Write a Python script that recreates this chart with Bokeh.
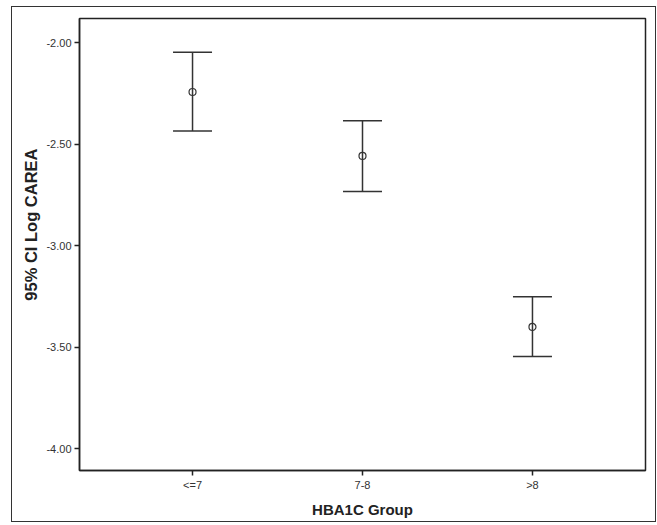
from bokeh.plotting import figure
from bokeh.models import ColumnDataSource, Whisker, TeeHead, Range1d, FixedTicker, Title
from bokeh.embed import file_html
from bokeh.resources import INLINE

categories = ["<=7", "7-8", ">8"]
means = [-2.242, -2.557, -3.399]
upper = [-2.046, -2.383, -3.250]
lower = [-2.434, -2.732, -3.545]
y_ticks = [-2.0, -2.5, -3.0, -3.5, -4.0]
y_tick_labels = ["-2.00", "-2.50", "-3.00", "-3.50", "-4.00"]

xs = [i + 1 for i in range(len(categories))]
src = ColumnDataSource(dict(x=xs, mean=means, upper=upper, lower=lower))

p = figure(width=645, height=516, output_backend="svg", toolbar_location=None,
           x_range=Range1d(0.335, 3.665), y_range=Range1d(-4.106, -1.880),
           min_border_left=67, min_border_top=11, min_border_right=12, min_border_bottom=53,
           margin=(6, 0, 0, 11), styles={"border": "1px solid #333333"})

p.xgrid.visible = False
p.ygrid.visible = False
p.outline_line_color = "#222222"
p.outline_line_width = 1.5
p.background_fill_color = "white"
p.border_fill_color = "white"

w = Whisker(source=src, base="x", upper="upper", lower="lower", dimension="height",
            line_color="#333333", line_width=1.5,
            upper_head=TeeHead(size=39, line_color="#333333", line_width=1.5),
            lower_head=TeeHead(size=39, line_color="#333333", line_width=1.5))
p.add_layout(w)

p.scatter("x", "mean", source=src, marker="circle", size=7, fill_color=None,
          line_color="#333333", line_width=1.2)

p.xaxis.ticker = FixedTicker(ticks=xs)
p.xaxis.major_label_overrides = {x: c for x, c in zip(xs, categories)}
p.yaxis.ticker = FixedTicker(ticks=y_ticks)
p.yaxis.major_label_overrides = {t: l for t, l in zip(y_ticks, y_tick_labels)}

for ax in (p.xaxis[0], p.yaxis[0]):
    ax.axis_line_color = "#222222"
    ax.axis_line_width = 1.5
    ax.major_tick_line_color = "#222222"
    ax.major_tick_line_width = 1.5
    ax.major_tick_out = 5
    ax.major_tick_in = 0
    ax.minor_tick_line_color = None
    ax.major_label_text_font = "Liberation Sans"
    ax.major_label_text_font_size = "11px"
    ax.major_label_text_color = "#333333"
    ax.axis_label_text_font = "Liberation Sans"
    ax.axis_label_text_font_size = "15px"
    ax.axis_label_text_font_style = "bold"
    ax.axis_label_text_color = "#222222"

p.xaxis.axis_label = "HBA1C Group"
p.xaxis.major_label_standoff = 3
p.yaxis.major_label_standoff = 3
p.xaxis.axis_label_standoff = 7

ytitle = Title(text="95% CI Log CAREA", align="right", offset=130, standoff=8,
               text_font="Liberation Sans", text_font_size="16.5px",
               text_font_style="bold", text_color="#222222")
p.add_layout(ytitle, "left")

open("out.html", "w").write(file_html(p, INLINE))
